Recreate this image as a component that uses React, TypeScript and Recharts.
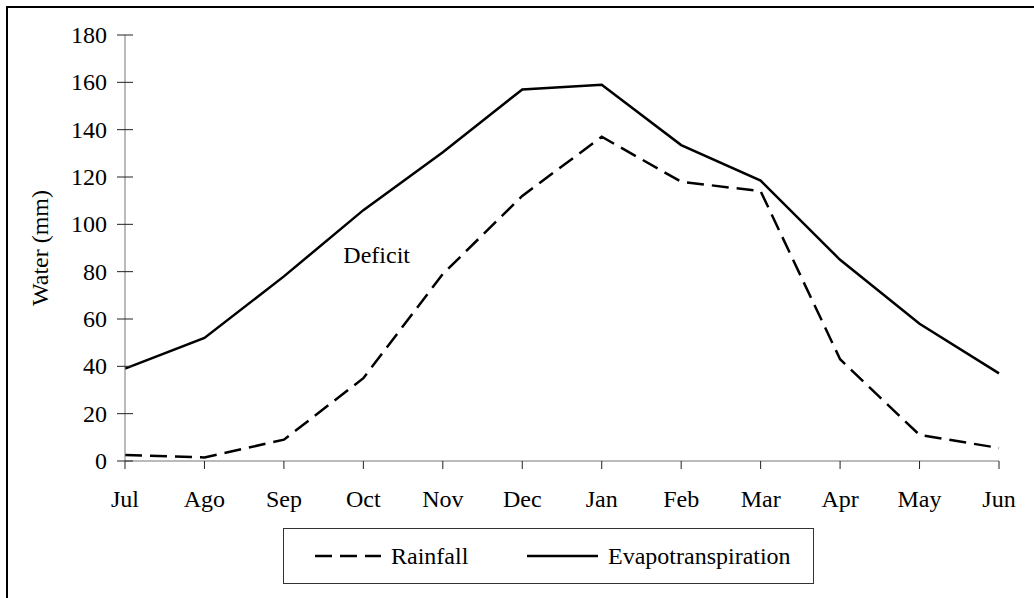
import React from "react";
import { LineChart, Line, XAxis, YAxis, Legend, ReferenceDot } from "recharts";

const months = ["Jul", "Ago", "Sep", "Oct", "Nov", "Dec", "Jan", "Feb", "Mar", "Apr", "May", "Jun"];
const rainfall = [2.5, 1.5, 9, 35, 79, 112, 137, 118, 114, 43, 11, 5.5];
const evapotranspiration = [39, 52, 78, 106, 130.5, 157, 159, 133.5, 118.5, 85, 58, 37];
const yTicks = [0, 20, 40, 60, 80, 100, 120, 140, 160, 180];
const seriesOrder = ["Rainfall", "Evapotranspiration"];

const txt = { fontFamily: '"Liberation Serif"', fontSize: 24 };

const data = months.map((m, i) => ({
  month: m,
  rainfall: rainfall[i],
  evapotranspiration: evapotranspiration[i],
}));

const YTick = (props: any) => {
  const { x, y, payload } = props;
  return (
    <g>
      <line x1={x - 8} x2={x + 8} y1={y} y2={y} stroke="#222" strokeWidth={1} />
      <text x={x - 18} y={y + 8} textAnchor="end" style={txt} fill="#000">
        {payload.value}
      </text>
    </g>
  );
};

const XTick = (props: any) => {
  const { x, y, payload } = props;
  return (
    <g>
      <line x1={x} x2={x} y1={y} y2={y + 8} stroke="#222" strokeWidth={1} />
      <text x={x} y={y + 46} textAnchor="middle" style={txt} fill="#000">
        {payload.value}
      </text>
    </g>
  );
};

const LegendBox = (props: any) => {
  const items = [...(props.payload || [])].sort(
    (a: any, b: any) => seriesOrder.indexOf(a.value) - seriesOrder.indexOf(b.value)
  );
  const starts = [32, 244];
  const lengths = [66, 71];
  return (
    <svg width={531} height={56} style={{ display: "block" }}>
      <rect x={0.5} y={0.5} width={530} height={55} fill="#fff" stroke="#333" strokeWidth={1} />
      {items.map((entry: any, i: number) => (
        <g key={entry.value}>
          <line
            x1={starts[i]}
            x2={starts[i] + lengths[i]}
            y1={28}
            y2={28}
            stroke="#000"
            strokeWidth={2.5}
            strokeDasharray={entry.payload?.strokeDasharray}
          />
          <text x={starts[i] + lengths[i] + 10} y={36} style={txt} fill="#000">
            {entry.value}
          </text>
        </g>
      ))}
    </svg>
  );
};

export default function App() {
  return (
    <div
      style={{
        position: "fixed",
        left: 0,
        top: 0,
        width: 1034,
        height: 598,
        overflow: "hidden",
        background: "#fff",
      }}
    >
      <div
        style={{
          position: "absolute",
          left: 6,
          top: 6,
          width: 1100,
          height: 700,
          border: "2px solid #000",
        }}
      />
      <div style={{ position: "absolute", left: 0, top: 0 }}>
        <LineChart width={1034} height={598} data={data} margin={{ top: 35, right: 35, bottom: 97, left: 0 }}>
          <XAxis
            dataKey="month"
            padding={{ left: 0, right: 0 }}
            height={40}
            tickSize={0}
            tickMargin={0}
            tickLine={false}
            axisLine={{ stroke: "#777" }}
            tick={<XTick />}
            interval={0}
          />
          <YAxis
            domain={[0, 180]}
            ticks={yTicks}
            width={125}
            tickSize={0}
            tickMargin={0}
            tickLine={false}
            axisLine={{ stroke: "#777" }}
            tick={<YTick />}
            label={(p: any) => {
              const vb = p.viewBox || {};
              const cx = (vb.x || 0) + 48;
              const cy = (vb.y || 0) + (vb.height || 0) / 2;
              return (
                <text
                  x={cx}
                  y={cy}
                  transform={`rotate(-90, ${cx}, ${cy})`}
                  textAnchor="middle"
                  style={txt}
                  fill="#000"
                >
                  Water (mm)
                </text>
              );
            }}
          />
          <Line
            dataKey="rainfall"
            name="Rainfall"
            type="linear"
            stroke="#000"
            strokeWidth={2.5}
            strokeDasharray="17 8"
            dot={false}
            isAnimationActive={false}
          />
          <Line
            dataKey="evapotranspiration"
            name="Evapotranspiration"
            type="linear"
            stroke="#000"
            strokeWidth={2.5}
            dot={false}
            isAnimationActive={false}
          />
          <ReferenceDot
            x="Oct"
            y={87}
            r={0}
            fill="none"
            stroke="none"
            label={(p: any) => {
              const vb = p.viewBox || {};
              return (
                <text x={(vb.x || 0) - 20} y={(vb.y || 0) + 8} style={txt} fill="#000">
                  Deficit
                </text>
              );
            }}
          />
          <Legend
            layout="horizontal"
            verticalAlign="middle"
            align="center"
            wrapperStyle={{ position: "absolute", left: 283, top: 528, width: 531, height: 56 }}
            content={<LegendBox />}
          />
        </LineChart>
      </div>
    </div>
  );
}
